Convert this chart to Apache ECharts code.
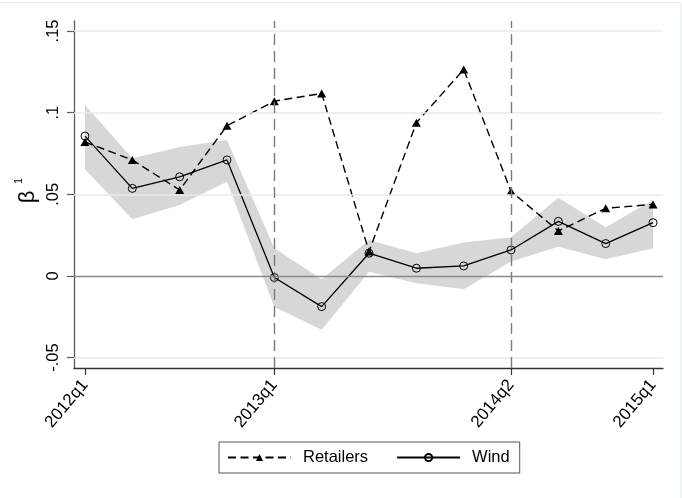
<!DOCTYPE html>
<html>
<head>
<meta charset="utf-8">
<script src="https://cdn.jsdelivr.net/npm/echarts@6/dist/echarts.min.js"></script>
<style>
html, body { margin: 0; padding: 0; background: #fff; }
#chart { width: 682px; height: 498px; }
</style>
</head>
<body>
<div id="chart"></div>
<script>
// Quarterly estimates of beta_1 with the confidence band for the Wind series
const quarters = ['2012q1', '2012q2', '2012q3', '2012q4', '2013q1', '2013q2', '2013q3',
                  '2013q4', '2014q1', '2014q2', '2014q3', '2014q4', '2015q1'];
const retailers = [0.082, 0.071, 0.0526, 0.092, 0.107, 0.1117, 0.0149,
                   0.0938, 0.1264, 0.0518, 0.0275, 0.0414, 0.0438];
const wind = [0.0856, 0.0536, 0.0607, 0.071, -0.001, -0.0188, 0.0139,
              0.0047, 0.0061, 0.0159, 0.0334, 0.0198, 0.0326];
const windUpper = [0.1046, 0.072, 0.079, 0.0832, 0.017, -0.002, 0.022,
                   0.0139, 0.0204, 0.0237, 0.0479, 0.0298, 0.0465];
const windLower = [0.0653, 0.0347, 0.0434, 0.0577, -0.019, -0.033, 0.0026,
                   -0.0045, -0.0081, 0.0088, 0.0179, 0.0102, 0.0169];
const xTickQuarters = ['2012q1', '2013q1', '2014q2', '2015q1'];
const eventQuarters = ['2013q1', '2014q2'];
const yTicks = [-0.05, 0, 0.05, 0.1, 0.15];
const yTickLabels = ['-.05', '0', '.05', '.1', '.15'];

const FONT = '"Liberation Sans", Arial, sans-serif';
const idx = q => quarters.indexOf(q);
const pairs = arr => arr.map((v, i) => [i, v]);

const chart = echarts.init(document.getElementById('chart'), null, { renderer: 'canvas' });

const refLines = [];
yTicks.filter(v => v !== 0).forEach(v => {
  refLines.push({ yAxis: v, lineStyle: { color: '#e3ecef', width: 1.5, type: 'solid' } });
});
refLines.push({ yAxis: 0, lineStyle: { color: '#8a8a8a', width: 1.3, type: 'solid' } });
eventQuarters.forEach(q => {
  refLines.push({ xAxis: idx(q), lineStyle: { color: '#7a7a7a', width: 1.4, type: [11, 6] } });
});

// confidence band: one polygon, upper edge left to right, lower edge back
function renderBand(params, api) {
  if (params.dataIndex !== 0) return null;
  const pts = [];
  windUpper.forEach((v, i) => pts.push(api.coord([i, v])));
  for (let i = windLower.length - 1; i >= 0; i--) pts.push(api.coord([i, windLower[i]]));
  return { type: 'polygon', shape: { points: pts }, style: { fill: '#d7d7d7' } };
}

chart.setOption({
  animation: false,
  backgroundColor: '#fff',
  grid: { left: 74, top: 21, right: 19, bottom: 130, containLabel: false },
  xAxis: {
    type: 'value',
    min: -0.232,
    max: 12.21,
    axisLine: { show: true, onZero: false, lineStyle: { color: '#333', width: 1.3 } },
    axisTick: {
      show: true, length: 7,
      customValues: xTickQuarters.map(idx),
      lineStyle: { color: '#333', width: 1.2 }
    },
    axisLabel: {
      show: true,
      customValues: xTickQuarters.map(idx),
      formatter: v => quarters[Math.round(v)],
      rotate: 50, margin: 14,
      fontSize: 17, color: '#000', fontFamily: FONT
    },
    splitLine: { show: false }
  },
  yAxis: {
    type: 'value',
    min: -0.0564,
    max: 0.1561,
    axisLine: { show: true, onZero: false, lineStyle: { color: '#5a5a5a', width: 1.3 } },
    axisTick: {
      show: true, length: 7,
      customValues: yTicks,
      lineStyle: { color: '#5a5a5a', width: 1.2 }
    },
    axisLabel: {
      show: true,
      customValues: yTicks,
      formatter: v => yTickLabels[yTicks.findIndex(t => Math.abs(t - v) < 1e-9)],
      rotate: 90, margin: 12,
      fontSize: 16.5, color: '#000', fontFamily: FONT
    },
    splitLine: { show: false }
  },
  legend: {
    data: ['Retailers', 'Wind'],
    left: 219, top: 442,
    itemWidth: 63, itemHeight: 9, itemGap: 28,
    padding: [7, 10, 7, 8],
    borderColor: '#555', borderWidth: 1,
    backgroundColor: '#fff',
    selectedMode: false,
    textStyle: { fontSize: 16.5, color: '#000', fontFamily: FONT, padding: [0, 0, 0, 7] }
  },
  graphic: [
    {
      type: 'rect', silent: true, z: -10,
      shape: { x: -5, y: 2.5, width: 686, height: 505 },
      style: { fill: 'none', stroke: '#e3eaed', lineWidth: 1 }
    },
    {
      type: 'text', x: 28, y: 197, rotation: Math.PI / 2,
      style: { text: 'β', font: '22px ' + FONT, fill: '#000', align: 'center', verticalAlign: 'middle' }
    },
    {
      type: 'text', x: 19, y: 181, rotation: Math.PI / 2,
      style: { text: '1', font: '10px ' + FONT, fill: '#000', align: 'center', verticalAlign: 'middle' }
    }
  ],
  series: [
    {
      name: 'reference lines',
      type: 'line', data: [], z: 1,
      silent: true,
      markLine: {
        silent: true, symbol: ['none', 'none'], animation: false,
        label: { show: false },
        emphasis: { disabled: true },
        data: refLines
      }
    },
    {
      name: 'band',
      type: 'custom', z: 2, silent: true,
      data: [[0, windLower[0]]],
      renderItem: renderBand
    },
    {
      name: 'Retailers',
      type: 'line', data: pairs(retailers), z: 3,
      symbol: 'triangle', symbolSize: [9, 8],
      itemStyle: { color: '#000' },
      lineStyle: { color: '#000', width: 1.4, type: [8, 4.5] }
    },
    {
      name: 'Wind',
      type: 'line', data: pairs(wind), z: 4,
      symbol: 'circle', symbolSize: 8,
      itemStyle: { color: 'rgba(0,0,0,0)', borderColor: '#000', borderWidth: 1 },
      lineStyle: { color: '#000', width: 1.3 }
    }
  ]
});
</script>
</body>
</html>
